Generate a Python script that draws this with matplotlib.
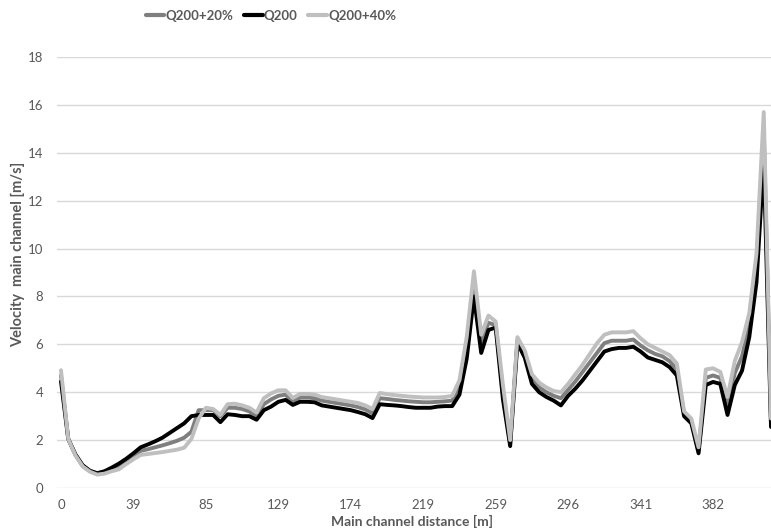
import matplotlib
matplotlib.use("Agg")
import matplotlib.pyplot as plt
import numpy as np

# Distance labels shown every 10 sections along the main channel
tick_labels = ["0", "39", "85", "129", "174", "219", "259", "296", "341", "382"]
tick_step = 10

q200 = [4.45, 2.05, 1.40, 0.95, 0.72, 0.62, 0.70, 0.85, 1.02, 1.22,
        1.45, 1.70, 1.82, 1.95, 2.10, 2.30, 2.50, 2.70, 3.00, 3.05,
        3.05, 3.05, 2.75, 3.08, 3.05, 3.00, 3.00, 2.85, 3.25, 3.40,
        3.60, 3.68, 3.47, 3.60, 3.60, 3.58, 3.45, 3.40, 3.35, 3.30,
        3.25, 3.17, 3.08, 2.92, 3.50, 3.47, 3.45, 3.42, 3.38, 3.35,
        3.35, 3.35, 3.40, 3.42, 3.42, 3.90, 5.40, 8.00, 5.64, 6.60,
        6.70, 3.70, 1.75, 6.05, 5.45, 4.35, 4.00, 3.80, 3.65, 3.45,
        3.85, 4.15, 4.50, 4.90, 5.30, 5.70, 5.80, 5.85, 5.85, 5.90,
        5.70, 5.45, 5.35, 5.25, 5.05, 4.70, 3.00, 2.70, 1.45, 4.30,
        4.43, 4.35, 3.05, 4.30, 4.90, 6.30, 8.60, 13.70, 2.55]

q200_20 = [4.70, 2.05, 1.38, 0.92, 0.70, 0.60, 0.66, 0.80, 0.92, 1.12,
           1.32, 1.55, 1.62, 1.70, 1.78, 1.87, 1.97, 2.10, 2.35, 3.25,
           3.25, 3.25, 3.00, 3.35, 3.35, 3.30, 3.20, 3.00, 3.50, 3.70,
           3.85, 3.90, 3.60, 3.78, 3.78, 3.75, 3.65, 3.60, 3.55, 3.50,
           3.45, 3.38, 3.28, 3.12, 3.75, 3.72, 3.68, 3.65, 3.62, 3.60,
           3.58, 3.58, 3.60, 3.62, 3.65, 4.20, 5.90, 8.60, 6.10, 6.90,
           6.80, 4.00, 1.85, 6.20, 5.60, 4.55, 4.20, 4.00, 3.85, 3.75,
           4.10, 4.45, 4.85, 5.25, 5.65, 6.05, 6.15, 6.15, 6.15, 6.20,
           5.95, 5.75, 5.60, 5.50, 5.30, 4.95, 3.10, 2.80, 1.55, 4.60,
           4.70, 4.60, 3.40, 4.80, 5.50, 6.80, 9.20, 15.00, 2.70]

q200_40 = [4.92, 2.05, 1.36, 0.90, 0.68, 0.56, 0.60, 0.70, 0.78, 1.00,
           1.20, 1.38, 1.42, 1.46, 1.50, 1.55, 1.60, 1.68, 2.05, 2.90,
           3.35, 3.30, 3.05, 3.50, 3.52, 3.45, 3.35, 3.15, 3.75, 3.95,
           4.08, 4.08, 3.76, 3.93, 3.93, 3.90, 3.80, 3.75, 3.70, 3.65,
           3.60, 3.55, 3.45, 3.30, 3.97, 3.92, 3.88, 3.85, 3.82, 3.80,
           3.78, 3.78, 3.78, 3.80, 3.85, 4.50, 6.30, 9.05, 6.40, 7.20,
           6.95, 4.30, 2.00, 6.30, 5.75, 4.75, 4.40, 4.20, 4.05, 4.00,
           4.35, 4.75, 5.15, 5.60, 6.05, 6.40, 6.50, 6.50, 6.50, 6.55,
           6.25, 6.00, 5.85, 5.70, 5.55, 5.20, 3.20, 2.90, 1.70, 4.95,
           5.00, 4.85, 3.80, 5.30, 6.10, 7.30, 9.80, 15.70, 2.90]

series_names = ["Q200+20%", "Q200", "Q200+40%"]
series_vals = [q200_20, q200, q200_40]
series_colors = ["#7f7f7f", "#000000", "#bfbfbf"]

plt.rcParams['font.family'] = ['Lato', 'DejaVu Sans']

fig = plt.figure(figsize=(7.71, 5.30), dpi=100)
ax = fig.add_axes([57 / 771, 1 - 488 / 530, (771 - 57) / 771, (488 - 57) / 530])

x = np.arange(len(q200))
handles = []
for name, vals, col in zip(series_names, series_vals, series_colors):
    h, = ax.plot(x, vals, color=col, lw=2.8, solid_joinstyle='round',
                 solid_capstyle='round', label=name)
    handles.append(h)

ax.set_ylim(0, 18)
ax.set_yticks(np.arange(0, 19, 2))
ax.set_xlim(-0.55, 98.0)
ax.set_xticks(np.arange(len(tick_labels)) * tick_step)
ax.set_xticklabels(tick_labels)

ax.grid(axis='y', color='#d9d9d9', lw=1)
ax.set_axisbelow(True)
for s in ax.spines.values():
    s.set_visible(False)
ax.tick_params(axis='both', length=0, colors='#595959', labelsize=9.5)
ax.tick_params(axis='y', pad=10)
ax.tick_params(axis='x', pad=8)

fig.text(18 / 771, 1 - 254 / 530, "Velocity  main channel [m/s]", rotation=90,
         ha='center', va='center', fontsize=10.5, fontweight='bold', color='#595959')
fig.text(412 / 771, 1 - 521 / 530, "Main channel distance [m]",
         ha='center', va='center', fontsize=10, fontweight='bold', color='#595959')

leg = fig.legend(handles=handles, loc='center', bbox_to_anchor=(271 / 771, 1 - 16 / 530),
                 ncol=3, frameon=False,
                 prop={'size': 9.5, 'weight': 'bold'},
                 handlelength=1.4, handletextpad=0.1, columnspacing=0.8)
for t in leg.get_texts():
    t.set_color('#595959')
for lh in leg.get_lines():
    lh.set_linewidth(3)

fig.savefig("out.png", dpi=100)
